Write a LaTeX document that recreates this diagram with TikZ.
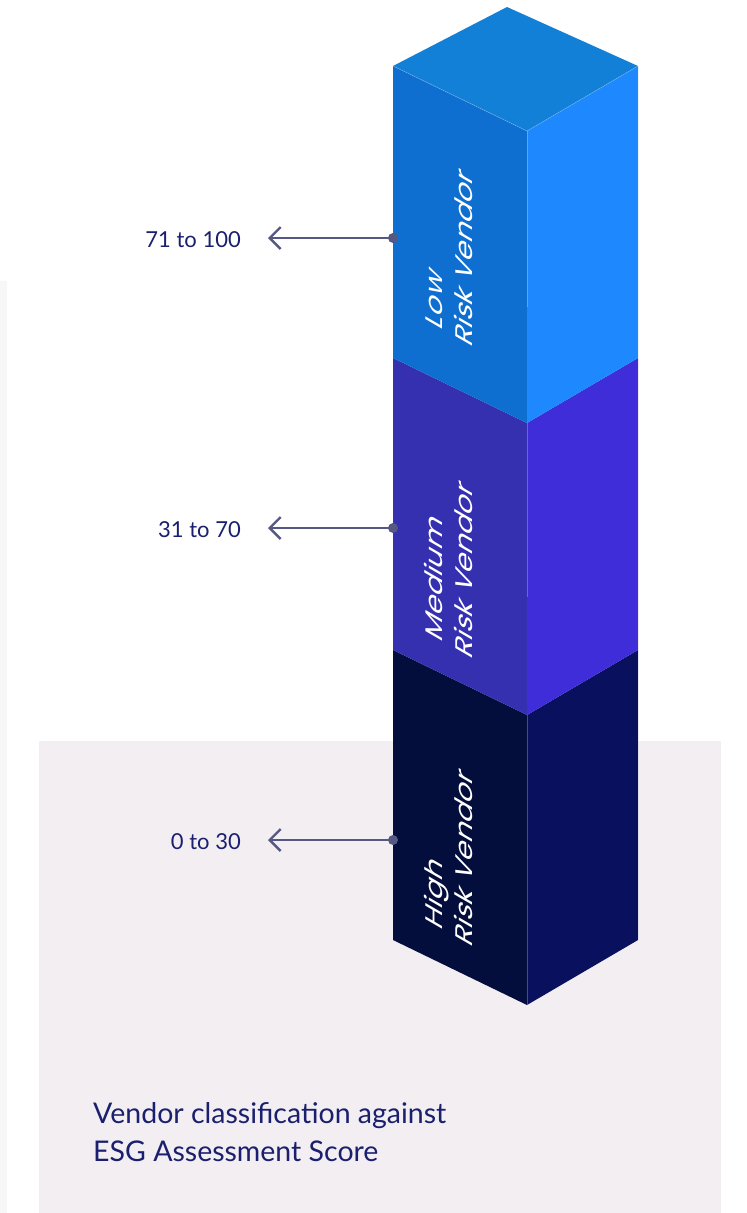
\documentclass[tikz,border=0pt]{standalone}
\usepackage{fontspec}
\setmainfont{Lato}
\newfontfamily\labelfont{Poppins}
\usetikzlibrary{arrows.meta}

\definecolor{topc}{RGB}{19,128,216}
\definecolor{lowL}{RGB}{14,111,209}
\definecolor{lowR}{RGB}{30,136,255}
\definecolor{medL}{RGB}{53,48,176}
\definecolor{medR}{RGB}{62,45,216}
\definecolor{highL}{RGB}{4,14,60}
\definecolor{highR}{RGB}{9,17,94}
\definecolor{panel}{RGB}{243,238,242}
\definecolor{strip}{RGB}{247,247,247}
\definecolor{arrowc}{RGB}{85,88,130}
\definecolor{navy}{RGB}{26,32,110}

\begin{document}
\begin{tikzpicture}[x=1pt,y=-1pt,
  seam/.style={white,opacity=0.25,line width=0.6pt},
  arrowline/.style={draw=arrowc,line width=2.4pt,-{Straight Barb[length=11pt,width=22pt]}},
  dotnode/.style={circle,fill=arrowc,minimum size=10pt,inner sep=0pt},
  scorelabel/.style={anchor=base east,inner sep=0pt,text=navy,font=\fontsize{22}{27}\selectfont},
  tierlabel/.style={anchor=south west,inner sep=0pt,align=left,text=white,
    font=\labelfont\fontsize{24}{30}\selectfont,cm={0,1.25,-1,0.58,(0,0)}},
  caption/.style={anchor=south west,inner sep=0pt,align=left,text=navy,
    font=\fontsize{28.5}{38}\selectfont}]
\useasboundingbox (0,0) rectangle (747,1213);

% backdrop
\fill[strip] (0,281) rectangle (7,1213);
\fill[panel] (39,741) rectangle (721,1213);

% stacked prism: high, medium, low tiers and the top face
\fill[highL] (393,650) -- (527,715) -- (527,1005) -- (393,940) -- cycle;
\fill[highR] (527,715) -- (638,650) -- (638,940) -- (527,1005) -- cycle;
\fill[medL] (393,358) -- (527,423) -- (527,715) -- (393,650) -- cycle;
\fill[medR] (527,423) -- (638,358) -- (638,650) -- (527,715) -- cycle;
\fill[lowL] (393,66) -- (527,131) -- (527,423) -- (393,358) -- cycle;
\fill[lowR] (527,131) -- (638,66) -- (638,358) -- (527,423) -- cycle;
\fill[topc] (393,66) -- (507,7) -- (638,66) -- (527,131) -- cycle;

% faint edge seams
\draw[seam] (393,66) -- (527,131) -- (638,66);
\draw[seam] (527,131) -- (527,307);
\draw[seam] (527,423) -- (527,597);
\draw[seam] (527,715) -- (527,1005);
\draw[seam] (638,66) -- (638,940);

% tier names
\begin{scope}[shift={(473,349)}]
  \node[tierlabel] (lowname) at (0,0) {Low\\Risk Vendor};
\end{scope}
\begin{scope}[shift={(473,661)}]
  \node[tierlabel] (medname) at (0,0) {Medium\\Risk Vendor};
\end{scope}
\begin{scope}[shift={(473,949)}]
  \node[tierlabel] (highname) at (0,0) {High\\Risk Vendor};
\end{scope}

% score pointers
\node[dotnode] (d1) at (393,238) {};
\node[dotnode] (d2) at (393,528) {};
\node[dotnode] (d3) at (393,840) {};
\coordinate (t1) at (268,238);
\coordinate (t2) at (268,528);
\coordinate (t3) at (268,840);
\draw[arrowline] (d1.center) -- (t1);
\draw[arrowline] (d2.center) -- (t2);
\draw[arrowline] (d3.center) -- (t3);

\node[scorelabel] (s1) at (241,247) {71 to 100};
\node[scorelabel] (s2) at (241,537) {31 to 70};
\node[scorelabel] (s3) at (241,849) {0 to 30};

% caption
\node[caption] (cap) at (93,1162) {Vendor classification against\\ESG Assessment Score};
\end{tikzpicture}
\end{document}
